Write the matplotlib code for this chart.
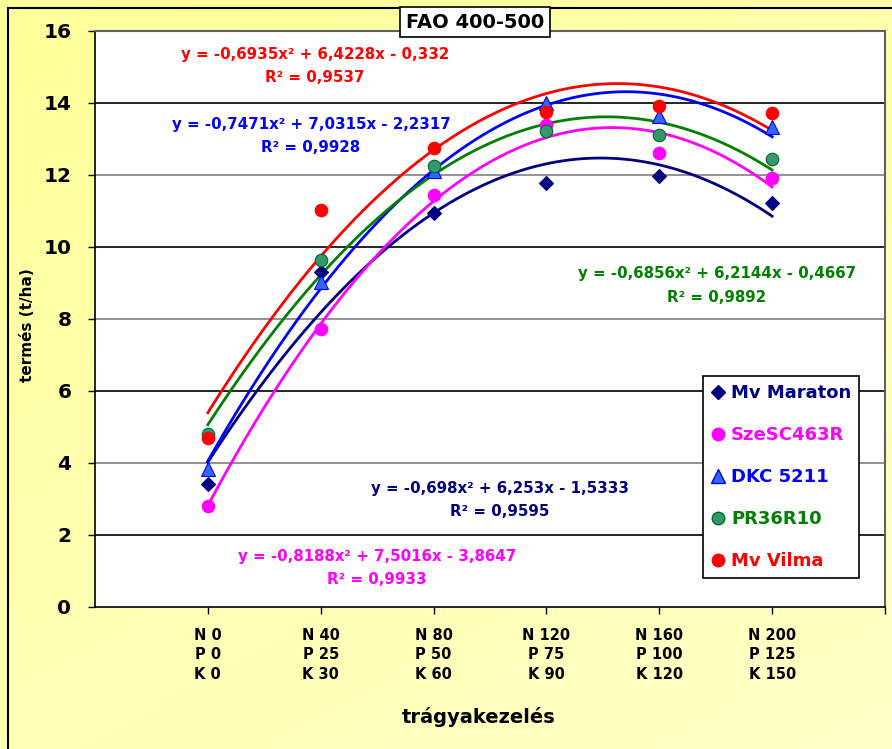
import matplotlib.pyplot as plt
import numpy as np
import matplotlib.patches as patches
from matplotlib.lines import Line2D
from matplotlib.colors import LinearSegmentedColormap

plt.rcParams['font.family'] = ['DejaVu Sans']

# data
treatments = ["N 0\nP 0\nK 0", "N 40\nP 25\nK 30", "N 80\nP 50\nK 60",
              "N 120\nP 75\nK 90", "N 160\nP 100\nK 120", "N 200\nP 125\nK 150"]
hybrids = ["Mv Maraton", "SzeSC463R", "DKC 5211", "PR36R10", "Mv Vilma"]
mv_maraton = [3.42, 9.31, 10.94, 11.78, 11.97, 11.22]
szesc463r = [2.80, 7.72, 11.45, 13.40, 12.60, 11.92]
dkc5211 = [3.83, 9.03, 12.12, 14.00, 13.65, 13.33]
pr36r10 = [4.80, 9.64, 12.25, 13.22, 13.11, 12.44]
mv_vilma = [4.69, 11.03, 12.75, 13.75, 13.92, 13.72]

# trendline coefficients shown in the chart (a, b, c) and R2
coef_maraton = [-0.698, 6.253, -1.5333]
coef_szesc = [-0.8188, 7.5016, -3.8647]
coef_dkc = [-0.7471, 7.0315, -2.2317]
coef_pr = [-0.6856, 6.2144, -0.4667]
coef_vilma = [-0.6935, 6.4228, -0.332]
r2_values = ["0,9595", "0,9933", "0,9928", "0,9892", "0,9537"]
eq_texts = ["y = -0,698x² + 6,253x - 1,5333",
            "y = -0,8188x² + 7,5016x - 3,8647",
            "y = -0,7471x² + 7,0315x - 2,2317",
            "y = -0,6856x² + 6,2144x - 0,4667",
            "y = -0,6935x² + 6,4228x - 0,332"]

series = [mv_maraton, szesc463r, dkc5211, pr36r10, mv_vilma]
coefs = [coef_maraton, coef_szesc, coef_dkc, coef_pr, coef_vilma]

line_colors = ["#000080", "#FF00FF", "#0000FF", "#008000", "#FF0000"]
marker_face = ["#000080", "#FF00FF", "#3366FF", "#339966", "#FF0000"]
marker_edge = ["#000080", "#FF00FF", "#0000FF", "#006633", "#FF0000"]
marker_shape = ["D", "o", "^", "o", "o"]
marker_size = [7.5, 9, 10, 9, 9]
# equation label positions (figure pixels, centre)
eq_pos = [(500, 489), (377, 557), (311, 124), (717, 274), (315, 54)]

W, H = 892, 749
fig = plt.figure(figsize=(W / 100, H / 100), dpi=100)

# yellow gradient background
bg = fig.add_axes([0, 0, 1, 1], zorder=-10)
yy, xx = np.mgrid[0:1:200j, 0:1:200j]
grad = (xx * 0.4 + yy * 0.6)
cmap = LinearSegmentedColormap.from_list("bgy", ["#FFFF99", "#FFFFC8"])
bg.imshow(grad, cmap=cmap, aspect="auto", extent=[0, 1, 0, 1], origin="upper")
bg.axis("off")
fig.patches.append(patches.Rectangle((8 / W, -0.05), 1.2, 1 - 8 / H + 0.05,
                                     transform=fig.transFigure, fill=False,
                                     edgecolor="black", linewidth=1.5))

ax = fig.add_axes([95 / W, (H - 607) / H, (885 - 95) / W, (607 - 31) / H])
ax.set_facecolor("white")
x = np.arange(1, len(treatments) + 1)
xs = np.linspace(1, 6, 120)

for yv in [2, 4, 6, 8, 10, 12, 14]:
    ax.axhline(yv, color="black" if yv % 4 == 2 else "#808080", linewidth=1.2, zorder=1)

for i in range(len(hybrids)):
    a, b, c = coefs[i]
    ax.plot(xs, a * xs ** 2 + b * xs + c, color=line_colors[i], linewidth=2, zorder=2)

for i in range(len(hybrids)):
    ax.plot(x, series[i], linestyle="none", marker=marker_shape[i],
            markersize=marker_size[i], markerfacecolor=marker_face[i],
            markeredgecolor=marker_edge[i], markeredgewidth=0.8, zorder=3)

for i in range(len(hybrids)):
    px, py = eq_pos[i]
    fig.text(px / W, 1 - py / H, eq_texts[i], color=line_colors[i], fontsize=10.8,
             fontweight="bold", ha="center", va="center")
    fig.text(px / W, 1 - (py + 23) / H, "R² = " + r2_values[i], color=line_colors[i],
             fontsize=10.8, fontweight="bold", ha="center", va="center")

ax.set_xlim(0, 7)
ax.set_ylim(0, 16)
ax.set_xticks(list(x) + [7])
ax.set_xticklabels(treatments + [""], fontsize=10.5, fontweight="bold", linespacing=1.38)
ax.set_yticks(np.arange(0, 17, 2))
ax.set_yticklabels([str(v) for v in range(0, 17, 2)], fontsize=14.5, fontweight="bold")
ax.tick_params(axis="both", direction="out", length=5, width=1, color="black")
ax.tick_params(axis="x", pad=10)
ax.tick_params(axis="y", pad=12)
for s in ["left", "bottom"]:
    ax.spines[s].set_color("black")
    ax.spines[s].set_linewidth(1.2)
for s in ["top", "right"]:
    ax.spines[s].set_color("#606060")
    ax.spines[s].set_linewidth(1.5)

fig.text(28 / W, 1 - 325 / H, "termés (t/ha)", rotation=90, fontsize=11,
         fontweight="bold", ha="center", va="center")
fig.text(479 / W, 1 - 717 / H, "trágyakezelés", fontsize=14,
         fontweight="bold", ha="center", va="center")
fig.text(475 / W, 1 - 22 / H, "FAO 400-500", fontsize=14, fontweight="bold",
         ha="center", va="center",
         bbox=dict(boxstyle="square,pad=0.3", facecolor="white", edgecolor="black",
                   linewidth=1.2))

handles = [Line2D([], [], linestyle="none", marker=marker_shape[i],
                  markersize=marker_size[i], markerfacecolor=marker_face[i],
                  markeredgecolor=marker_edge[i]) for i in range(len(hybrids))]
leg = ax.legend(handles, hybrids, loc="upper left",
                bbox_to_anchor=(703 / W, 1 - 376 / H), bbox_transform=fig.transFigure,
                borderaxespad=0, fancybox=False, framealpha=1, edgecolor="black",
                prop=dict(size=13, weight="bold"), labelspacing=1.33,
                handlelength=0.8, handletextpad=0.3, borderpad=0.45)
leg.get_frame().set_linewidth(1.2)
for t, col in zip(leg.get_texts(), line_colors):
    t.set_color(col)

fig.savefig("out.png", dpi=100)
